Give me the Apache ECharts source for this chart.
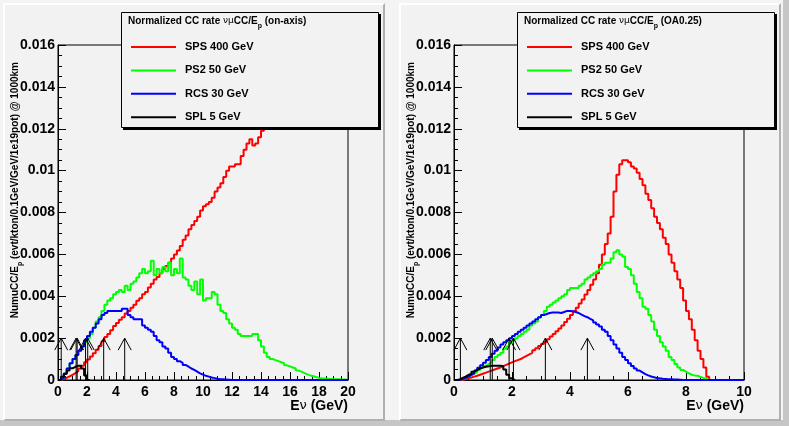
<!DOCTYPE html>
<html>
<head>
<meta charset="utf-8">
<script src="https://cdn.jsdelivr.net/npm/echarts@6/dist/echarts.min.js"></script>
<style>
  html, body { margin: 0; padding: 0; }
  body { width: 789px; height: 426px; background: #f4f4f4; position: relative; overflow: hidden; }
  .frame { position: absolute; left: 0; top: 0; width: 783px; height: 420px; border-right: 6px solid #c6c6c6; border-bottom: 6px solid #c6c6c6; }
  .pad { position: absolute; top: 3px; width: 378px; height: 414px; background: #f2f2f2;
         border-style: solid; border-width: 2px; border-color: #ffffff #b0b0b0 #b0b0b0 #ffffff; }
  #pad1 { left: 3px; }
  #pad2 { left: 399px; }
  #chart { position: absolute; left: 0; top: 0; width: 789px; height: 426px; }
</style>
</head>
<body>
<div class="frame"></div>
<div class="pad" id="pad1"></div>
<div class="pad" id="pad2"></div>
<div id="chart"></div>
<script>
  // bin widths (GeV)
  const binOnAxis = 0.2;
  const binOffAxis = 0.1;

  // on-axis, 0-20 GeV
  const spsOnAxis = [
    0, 0.00003, 0.0001, 0.00017, 0.00025, 0.00033, 0.00042, 0.00055, 0.00068, 0.00085,
    0.00098, 0.00112, 0.00128, 0.00145, 0.00162, 0.00185, 0.00205, 0.0022, 0.00238, 0.00258,
    0.00272, 0.00288, 0.003, 0.00318, 0.0033, 0.00345, 0.0036, 0.00378, 0.0039, 0.0041,
    0.0042, 0.00442, 0.0046, 0.0048, 0.00492, 0.0051, 0.0053, 0.00545, 0.0056, 0.0058,
    0.006, 0.00618, 0.0064, 0.0067, 0.0069, 0.0072, 0.0074, 0.0076, 0.0078, 0.0081,
    0.0083, 0.0084, 0.0085, 0.0087, 0.009, 0.0092, 0.0094, 0.0097, 0.01, 0.0102,
    0.0102, 0.0103, 0.0103, 0.0107, 0.011, 0.0113, 0.0115, 0.0112, 0.0113, 0.0116,
    0.0119, 0.0121, 0.0123, 0.0125, 0.0127, 0.0129
  ];
  const ps2OnAxis = [
    0, 0.00008, 0.0003, 0.00055, 0.0008, 0.001, 0.0012, 0.0014, 0.0016, 0.0018,
    0.002, 0.0022, 0.0025, 0.0028, 0.003, 0.0033, 0.0036, 0.0038, 0.0039, 0.0041,
    0.0042, 0.0043, 0.0042, 0.0045, 0.0043, 0.0046, 0.0047, 0.0049, 0.0051, 0.0053,
    0.0051, 0.0052, 0.0057, 0.005, 0.0053, 0.0051, 0.0054, 0.0052, 0.0056, 0.005,
    0.0053, 0.0051, 0.0058, 0.0049, 0.0048, 0.0045, 0.0043, 0.0047, 0.0041, 0.0048,
    0.0038, 0.0039, 0.0039, 0.0042, 0.0041, 0.0036, 0.0033, 0.0032, 0.0029, 0.0027,
    0.0025, 0.0024, 0.0022, 0.0021, 0.0021, 0.0021, 0.0021, 0.0022, 0.0022, 0.0019,
    0.0016, 0.0013, 0.0011, 0.001, 0.00095, 0.0009, 0.00085, 0.0008, 0.0007, 0.00065,
    0.0006, 0.00055, 0.00045, 0.0004, 0.00033, 0.00027, 0.00022, 0.00018, 0.00014, 0.0001,
    0.00008, 0.00007, 0.00006, 0.00005, 0.00004, 0.00003, 0.00003, 0.00002, 0.00002, 0.00001
  ];
  const rcsOnAxis = [
    0, 0.00008, 0.0003, 0.00055, 0.0008, 0.001, 0.0012, 0.0014, 0.0016, 0.0019,
    0.0021, 0.0023, 0.0025, 0.0027, 0.0029, 0.0031, 0.0032, 0.0033, 0.0033, 0.0033,
    0.0033, 0.0033, 0.0034, 0.0034, 0.0031, 0.003, 0.0029, 0.0029, 0.0029, 0.0026,
    0.0025, 0.0024, 0.0023, 0.0021, 0.0019, 0.0018, 0.0016, 0.0015, 0.0013, 0.0011,
    0.001, 0.0009, 0.00082, 0.00072, 0.00064, 0.00055, 0.00048, 0.0004, 0.00032, 0.00026,
    0.0002, 0.00016, 0.00012, 0.00009, 0.00006, 0.00004, 0.00003, 0.00002, 0.00001, 0,
    0, 0, 0, 0, 0, 0, 0, 0, 0, 0,
    0, 0, 0, 0, 0, 0, 0, 0, 0, 0,
    0, 0, 0, 0, 0, 0, 0, 0, 0, 0,
    0, 0, 0, 0, 0, 0, 0, 0, 0, 0
  ];
  const splOnAxis = [0, 0.00015, 0.0003, 0.00045, 0.00056, 0.00063, 0.00068, 0.00068, 0.00055, 0.00022, 0];

  // off-axis 0.25, 0-10 GeV
  const spsOffAxis = [
    0, 0, 0, 0.00003, 0.00008, 0.00012, 0.00016, 0.0002, 0.00025, 0.0003,
    0.00035, 0.0004, 0.00045, 0.0005, 0.00055, 0.0006, 0.00066, 0.00072, 0.00078, 0.00084,
    0.0009, 0.00095, 0.001, 0.00108, 0.00115, 0.00122, 0.0013, 0.00142, 0.00152, 0.00162,
    0.00172, 0.00182, 0.00195, 0.00208, 0.0022, 0.00233, 0.00246, 0.0026, 0.00277, 0.00293,
    0.0031, 0.00328, 0.00345, 0.00365, 0.00385, 0.00408, 0.0043, 0.00455, 0.0048, 0.0051,
    0.0055, 0.006, 0.0065, 0.007, 0.0078, 0.009, 0.0098, 0.0103, 0.0105, 0.0105,
    0.0104, 0.0102, 0.0101, 0.0099, 0.0096, 0.0093, 0.0089, 0.0086, 0.0082, 0.0078,
    0.0075, 0.0072, 0.0068, 0.0065, 0.006, 0.0056, 0.0052, 0.0048, 0.0044, 0.0038,
    0.0033, 0.0029, 0.0024, 0.0019, 0.0014, 0.001, 0.0006, 0.00016, 0, 0,
    0, 0, 0, 0, 0, 0, 0, 0, 0, 0
  ];
  const ps2OffAxis = [
    0, 0, 0.00005, 0.0001, 0.00016, 0.00022, 0.0003, 0.00038, 0.00048, 0.00058,
    0.00068, 0.00076, 0.00085, 0.00095, 0.0011, 0.0012, 0.0013, 0.0015, 0.0016, 0.0018,
    0.0019, 0.002, 0.0021, 0.0022, 0.0023, 0.0024, 0.0026, 0.0027, 0.0028, 0.003,
    0.0031, 0.0033, 0.0035, 0.0036, 0.0037, 0.0038, 0.0039, 0.004, 0.0041, 0.0043,
    0.0044, 0.0044, 0.0044, 0.0045, 0.0046, 0.0048, 0.0049, 0.005, 0.0051, 0.0052,
    0.0053, 0.0055, 0.0056, 0.0056, 0.0058, 0.0061, 0.0062, 0.006, 0.0059, 0.0054,
    0.0053, 0.005, 0.0046, 0.0042, 0.0039, 0.0035, 0.0034, 0.0031, 0.0028, 0.0024,
    0.0021, 0.0018, 0.0016, 0.0014, 0.0011, 0.00096, 0.00076, 0.0006, 0.00048, 0.0004,
    0.00032, 0.00025, 0.00022, 0.0002, 0.00015, 0.0001, 0.00005, 0, 0, 0,
    0, 0, 0, 0, 0, 0, 0, 0, 0, 0
  ];
  const rcsOffAxis = [
    0, 0, 0.00004, 0.0001, 0.00016, 0.00024, 0.00032, 0.00045, 0.00058, 0.0007,
    0.00082, 0.00095, 0.0011, 0.00125, 0.0014, 0.00155, 0.0017, 0.0018, 0.0019, 0.002,
    0.0021, 0.0022, 0.0023, 0.0024, 0.0025, 0.0026, 0.0027, 0.0028, 0.0029, 0.003,
    0.0031, 0.00315, 0.0032, 0.00322, 0.00322, 0.00322, 0.0032, 0.00325, 0.0033, 0.0033,
    0.00328, 0.00325, 0.0032, 0.00312, 0.00305, 0.003, 0.00292, 0.00285, 0.00275, 0.00265,
    0.00255, 0.0024, 0.0023, 0.0021, 0.0019, 0.0017, 0.0015, 0.0013, 0.0011, 0.00095,
    0.0008, 0.00067, 0.00055, 0.00045, 0.00036, 0.00028, 0.00022, 0.00017, 0.00013, 0.0001,
    0.00008, 0.00006, 0.00005, 0.00004, 0.00003, 0.00002, 0.00002, 0.00001, 0, 0,
    0, 0, 0, 0, 0, 0, 0, 0, 0, 0,
    0, 0, 0, 0, 0, 0, 0, 0, 0, 0
  ];
  const splOffAxis = [
    0, 0.00003, 0.0001, 0.00016, 0.00024, 0.0003, 0.0004, 0.00048, 0.00055, 0.0006,
    0.00063, 0.00066, 0.00068, 0.00068, 0.00068, 0.00068, 0.00066, 0.0005, 0.00025, 0.00008, 0
  ];

  // arrow markers (GeV) and their height
  const arrowEnergies = [0.22, 1.25, 1.32, 1.9, 2.05, 3.15, 4.6];
  const arrowHeight = 0.002;

  const seriesNames = ['SPS 400 GeV', 'PS2 50 GeV', 'RCS 30 GeV', 'SPL 5 GeV'];
  const seriesColors = ['#ff0000', '#00ff00', '#0000ff', '#000000'];
  const xMax = [20, 10];
  const yMax = 0.016;
  const titles = ['(on-axis)', '(OA0.25)'];

  const FONT = '"Liberation Sans", Arial, Helvetica, sans-serif';

  function hist(values, w) {
    const pts = values.map((v, i) => [+(i * w).toFixed(2), v]);
    pts.push([+(values.length * w).toFixed(2), values[values.length - 1]]);
    return pts;
  }

  const panels = [
    { data: [spsOnAxis, ps2OnAxis, rcsOnAxis, splOnAxis], bin: binOnAxis, dx: 0 },
    { data: [spsOffAxis, ps2OffAxis, rcsOffAxis, splOffAxis], bin: binOffAxis, dx: 396 }
  ];

  const chart = echarts.init(document.getElementById('chart'), null, { renderer: 'canvas' });

  const grids = [], xAxes = [], yAxes = [], series = [], legends = [], graphics = [];

  const boldRich = (size) => ({ fontFamily: FONT, fontWeight: 'bold', fontSize: size, fill: '#000' });
  const greekRich = (size) => ({ fontFamily: '"DejaVu Sans", sans-serif', fontSize: size - 1, fill: '#000' });

  panels.forEach((p, k) => {
    grids.push({ left: 58 + p.dx, top: 45, width: 290, height: 335, show: true, borderColor: '#000', borderWidth: 1, backgroundColor: 'transparent' });

    xAxes.push({
      type: 'value', gridIndex: k, min: 0, max: xMax[k], interval: 2,
      axisLine: { onZero: false, lineStyle: { color: '#000', width: 1 } },
      axisTick: { inside: true, length: 8, lineStyle: { color: '#000' } },
      minorTick: { show: true, splitNumber: 4, length: 4, lineStyle: { color: '#000' } },
      splitLine: { show: false },
      axisLabel: { color: '#000', fontFamily: FONT, fontWeight: 'bold', fontSize: 14, margin: 5 }
    });
    yAxes.push({
      type: 'value', gridIndex: k, min: 0, max: yMax, interval: 0.002,
      axisLine: { show: true, lineStyle: { color: '#000', width: 1 } },
      axisTick: { show: true, inside: true, length: 8, lineStyle: { color: '#000' } },
      minorTick: { show: true, splitNumber: 4, length: 4, lineStyle: { color: '#000' } },
      splitLine: { show: false },
      axisLabel: { color: '#000', fontFamily: FONT, fontWeight: 'bold', fontSize: 14, margin: 3 }
    });

    p.data.forEach((vals, i) => {
      series.push({
        name: seriesNames[i], type: 'line', step: 'end',
        xAxisIndex: k, yAxisIndex: k,
        data: hist(vals, p.bin),
        symbol: 'none', showSymbol: false, clip: true,
        color: seriesColors[i],
        lineStyle: { width: 2, color: seriesColors[i] },
        z: 2 + i * 0.01
      });
    });

    series.push({
      type: 'custom', xAxisIndex: k, yAxisIndex: k, silent: true, z: 3,
      data: arrowEnergies.map(e => [e, arrowHeight]),
      renderItem: (params, api) => {
        const base = api.coord([api.value(0), 0]);
        const tip = api.coord([api.value(0), api.value(1)]);
        return {
          type: 'group',
          children: [
            { type: 'line', shape: { x1: base[0], y1: base[1], x2: tip[0], y2: tip[1] }, style: { stroke: '#000', lineWidth: 1 } },
            { type: 'polyline', shape: { points: [[tip[0] - 6.5, tip[1] + 12], [tip[0], tip[1]], [tip[0] + 6.5, tip[1] + 12]] }, style: { stroke: '#000', fill: null, lineWidth: 1 } }
          ]
        };
      }
    });

    legends.push({
      left: 131 + p.dx, top: 40, orient: 'vertical', z: 10, padding: 0,
      data: seriesNames, icon: 'rect', itemWidth: 45, itemHeight: 2, itemGap: 9.4,
      selectedMode: false,
      textStyle: { color: '#000', fontFamily: FONT, fontWeight: 'bold', fontSize: 11, lineHeight: 14, padding: [0, 0, 0, 4] }
    });

    const bx = 121 + p.dx;
    graphics.push(
      { type: 'rect', z: 5, silent: true, shape: { x: bx + 2, y: 14, width: 258, height: 116 }, style: { fill: '#000' } },
      { type: 'rect', z: 6, silent: true, shape: { x: bx + 0.5, y: 12.5, width: 257, height: 115 }, style: { fill: '#f2f2f2', stroke: '#000', lineWidth: 1 } },
      {
        type: 'text', z: 11, silent: true, x: 128 + p.dx, y: 21,
        style: {
          text: '{b|Normalized CC rate }{g|\u03bd\u03bc}{b|CC/E}{s|p}{b| ' + titles[k] + '}',
          verticalAlign: 'middle',
          rich: { b: boldRich(10), g: greekRich(10), s: Object.assign(boldRich(7), { verticalAlign: 'bottom', lineHeight: 17 }) }
        }
      },
      {
        type: 'text', z: 11, silent: true, x: 348 + p.dx, y: 406,
        style: {
          text: '{b|E}{g|\u03bd}{b| (GeV)}', align: 'right', verticalAlign: 'middle',
          rich: { b: boldRich(14), g: greekRich(14) }
        }
      },
      {
        type: 'text', z: 11, silent: true, x: 15 + p.dx, y: 62, rotation: Math.PI / 2,
        style: {
          text: '{b|NumuCC/E}{s|p}{b| (evt/kton/0.1GeV/GeV/1e19pot) @ 1000km}', align: 'right', verticalAlign: 'middle',
          rich: { b: boldRich(10), s: Object.assign(boldRich(7), { verticalAlign: 'bottom', lineHeight: 17 }) }
        }
      }
    );
  });

  chart.setOption({
    animation: false,
    backgroundColor: 'transparent',
    grid: grids,
    xAxis: xAxes,
    yAxis: yAxes,
    legend: legends,
    series: series,
    graphic: { elements: graphics }
  });
</script>
</body>
</html>
